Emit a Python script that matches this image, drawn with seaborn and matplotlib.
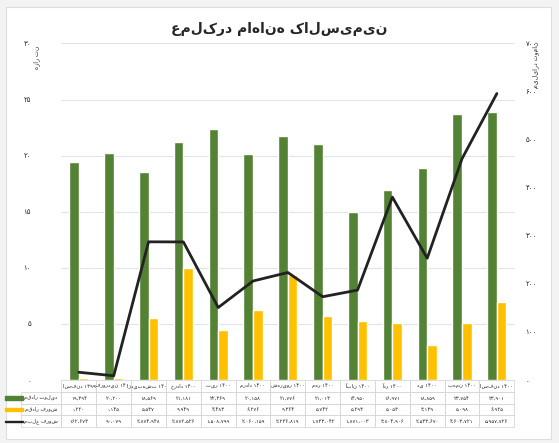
import matplotlib
matplotlib.use("Agg")
import matplotlib.pyplot as plt
import seaborn as sns
import pandas as pd
import numpy as np
from matplotlib.patches import Rectangle

months = ["اسفند ۱۳۹۹", "فروردین ۱۴۰۰", "اردیبهشت ۱۴۰۰", "خرداد ۱۴۰۰", "تیر ۱۴۰۰", "مرداد ۱۴۰۰",
          "شهریور ۱۴۰۰", "مهر ۱۴۰۰", "آبان ۱۴۰۰", "آذر ۱۴۰۰", "دی ۱۴۰۰", "بهمن ۱۴۰۰", "اسفند ۱۴۰۰"]
production = [19.394, 20.200, 18.569, 21.181, 22.369, 20.158, 21.776, 21.013, 14.950, 16.971, 18.859, 23.754, 23.901]
sales_qty = [0.220, 0.145, 5.537, 9.949, 4.483, 6.276, 9.364, 5.742, 5.293, 5.053, 3.139, 5.098, 6.925]
sales_amount = [162673, 90079, 2874948, 2872526, 1508799, 2060159, 2236819, 1733042, 1871003, 3804906, 2533670, 4603721, 5957726]
series_names = ["مقدار تولید", "مقدار فروش", "مبلغ فروش"]
title = "عملکرد ماهانه کالسیمین"

fa = str.maketrans("0123456789.", "۰۱۲۳۴۵۶۷۸۹,")
def faf(s):
    return str(s).translate(fa)

sns.set_theme(style="white")
plt.rcParams['font.family'] = ['DejaVu Sans']

fig = plt.figure(figsize=(5.59, 4.43), dpi=100, facecolor="#f3f3f3")
fig.patches.append(Rectangle((0.01, 0.01), 0.975, 0.975, transform=fig.transFigure,
                             facecolor="white", edgecolor="#dddddd", lw=0.8, zorder=-1))
ax = fig.add_axes([0.11, 0.142, 0.81, 0.76])
ax.set_facecolor("none")

df = pd.DataFrame({"month": months * 2,
                   "value": production + sales_qty,
                   "series": [series_names[0]] * 13 + [series_names[1]] * 13})
sns.barplot(data=df, x="month", y="value", hue="series", order=months, saturation=1,
            palette=["#548235", "#ffc000"], width=0.55, gap=0, ax=ax, legend=False)
ax.set_ylim(0, 30)
ax.set_yticks(range(0, 31, 5))
ax.set_yticklabels([faf(v) for v in range(0, 31, 5)], fontsize=5)
ax.yaxis.grid(True, color="#e3e3e3", lw=0.8)
ax.set_axisbelow(True)
for s in ax.spines.values():
    s.set_visible(False)
ax.tick_params(axis='y', length=0, pad=22)
ax.set_xlabel("")
ax.set_ylabel("")
fig.text(0.065, 0.87, "هزار تن", fontsize=4.5, rotation=90, ha="center", va="center")
ax.set_xticks([])
ax.set_xlim(-0.5, 12.5)

ax2 = ax.twinx()
ax2.plot(np.arange(13), [v / 10000 for v in sales_amount], color="#222222", lw=2)
ax2.set_ylim(0, 700)
ax2.set_yticks(range(0, 701, 100))
ax2.set_yticklabels([faf(v) for v in range(0, 701, 100)], fontsize=5)
ax2.tick_params(axis='y', length=0, pad=8)
for s in ax2.spines.values():
    s.set_visible(False)
ax2.set_ylabel("")
fig.text(0.958, 0.855, "میلیارد تومان", fontsize=4.5, rotation=90, ha="center", va="center")

fig.text(0.5, 0.925, title, ha="center", fontsize=10, fontweight="bold")

cell = [[faf(f"{v:.3f}") for v in production],
        [faf(f"{v:.3f}") for v in sales_qty],
        [faf(f"{v:,}").replace(",", "،") for v in sales_amount]]
tbl = ax.table(cellText=cell, rowLabels=series_names, colLabels=months,
               loc="bottom", cellLoc="center", rowLoc="right", bbox=[0, -0.14, 1, 0.14])
tbl.auto_set_font_size(False)
tbl.set_fontsize(3.8)
for (r, c), cl in tbl.get_celld().items():
    cl.set_edgecolor("#cfcfcf")
    cl.set_linewidth(0.5)
    if c == -1:
        cl.set_width(0.1)

keys = [("#548235", 5), ("#ffc000", 5), ("#222222", 1.5)]
for i, (col, h) in enumerate(keys):
    y = -0.14 + 0.14 * (2 - i + 0.5) / 4
    ax.add_patch(Rectangle((-0.125, y - h / 900), 0.04, h / 450, transform=ax.transAxes,
                           color=col, clip_on=False))

fig.savefig("out.png", dpi=100, facecolor=fig.get_facecolor())
